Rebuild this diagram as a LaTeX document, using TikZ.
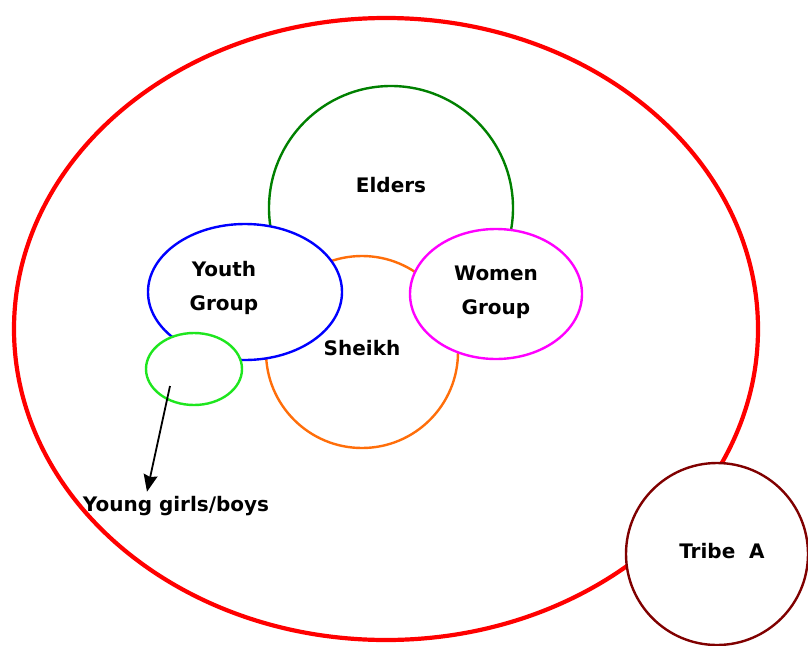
\documentclass[tikz,border=0pt]{standalone}
\usepackage{fontspec}
\setmainfont{DejaVu Sans}
\usetikzlibrary{arrows.meta,shapes.geometric}
\definecolor{eldgreen}{RGB}{0,128,0}
\definecolor{sheikhorange}{RGB}{255,110,10}
\definecolor{younggreen}{RGB}{30,230,30}
\definecolor{tribered}{RGB}{128,0,0}
\definecolor{womenpink}{RGB}{255,0,255}

\begin{document}
\begin{tikzpicture}[x=1pt,y=-1pt,line width=2.4pt,>=Stealth,
  grp/.style={ellipse,draw,fill=white,inner sep=0pt},
  lbl/.style={font=\bfseries\fontsize{20}{34}\selectfont,align=center}]
\useasboundingbox (0,0) rectangle (808,645);
\clip (0,0) rectangle (808,645);
% ---------- the whole community ----------
\node[grp,draw=red,fill=none,line width=4.2pt,minimum width=744,minimum height=622] (community) at (386,329) {};
\node[grp,draw=tribered,minimum size=182] (tribe) at (717,554) {};
% ---------- groups, back to front ----------
\node[grp,draw=eldgreen,minimum size=244] (elders) at (391,208) {};
\node[grp,draw=sheikhorange,minimum size=192] (sheikh) at (362,352) {};
\node[grp,draw=blue,minimum width=194,minimum height=136] (youth) at (245,292) {};
\node[grp,draw=womenpink,minimum width=172,minimum height=130] (women) at (496,294) {};
\node[grp,draw=younggreen,minimum width=96,minimum height=72] (young) at (194,369) {};
% ---------- labels ----------
\node[lbl] (elderslbl) at (391,185) {Elders};
\node[lbl] (sheikhlbl) at (362,348) {Sheikh};
\node[lbl] (youthlbl) at (224,288) {Youth\\Group};
\node[lbl] (womenlbl) at (496,292) {Women\\Group};
\node[lbl] (tribelbl) at (722,551) {Tribe\ \ A};
\node[lbl] (younglbl) at (176,506) {Young girls/boys};
% ---------- pointer to the young ones ----------
\coordinate (youngtail) at (170,386);
\draw[-{Stealth[length=17pt,width=14pt,inset=2pt]},line width=1.8pt] (youngtail) -- ([xshift=-29pt]younglbl.north);
\end{tikzpicture}
\end{document}
